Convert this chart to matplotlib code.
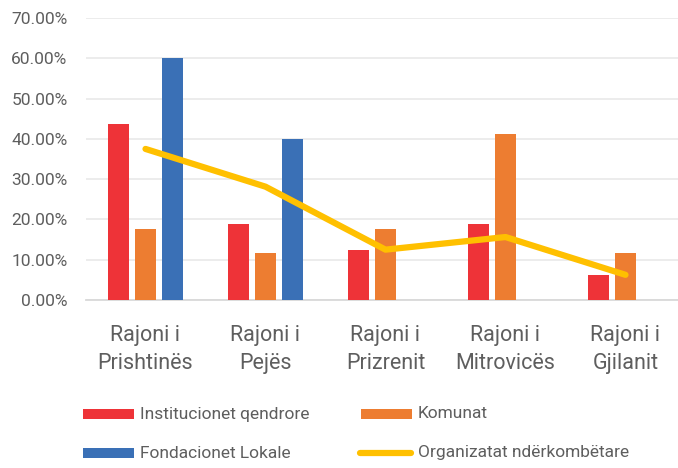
import matplotlib
matplotlib.use("Agg")
import matplotlib.pyplot as plt
import numpy as np
from matplotlib.patches import Rectangle
from matplotlib.lines import Line2D

plt.rcParams['font.family'] = ['Roboto', 'DejaVu Sans']

categories = ["Rajoni i\nPrishtinës", "Rajoni i\nPejës", "Rajoni i\nPrizrenit", "Rajoni i\nMitrovicës", "Rajoni i\nGjilanit"]
institucionet = [0.4375, 0.1875, 0.125, 0.1875, 0.0625]
komunat = [0.1765, 0.1176, 0.1765, 0.4118, 0.1176]
fondacionet = [0.60, 0.40, 0, 0, 0]
organizatat = [0.375, 0.2813, 0.125, 0.1563, 0.0625]
yticks = [0, 0.1, 0.2, 0.3, 0.4, 0.5, 0.6, 0.7]
series_names = ["Institucionet qendrore", "Komunat", "Fondacionet Lokale", "Organizatat ndërkombëtare"]

c_red = "#EE3338"
c_orange = "#ED7D31"
c_blue = "#3A70B6"
c_yellow = "#FFC000"
tc = "#5E5E5E"

W, H = 678, 468
fig = plt.figure(figsize=(W/100, H/100), dpi=100)
ax = fig.add_axes([85.5/W, 1-300/H, 600/W, 282/H])
x = np.arange(len(categories))
w = 0.175
step = 0.221
ax.bar(x - step, institucionet, w, color=c_red, zorder=3)
ax.bar(x, komunat, w, color=c_orange, zorder=3)
ax.bar(x + step, fondacionet, w, color=c_blue, zorder=3)
ax.plot(x, organizatat, color=c_yellow, lw=4.5, solid_capstyle='round', zorder=4)

ax.set_xlim(-0.5, len(categories) - 0.5)
ax.set_ylim(0, 0.7)
ax.set_yticks(yticks)
ax.set_yticklabels([f"{v*100:.2f}%" for v in yticks], fontsize=12.5, color=tc)
ax.set_xticks(x)
ax.set_xticklabels(categories, fontsize=15.5, color=tc, linespacing=1.45)
ax.tick_params(axis='both', length=0)
ax.tick_params(axis='x', pad=18)
ax.tick_params(axis='y', pad=13)
ax.grid(axis='y', color="#EBEBEB", lw=1.3, zorder=0)
for s in ['top', 'right', 'left']:
    ax.spines[s].set_visible(False)
ax.spines['bottom'].set_color("#D9D9D9")
ax.spines['bottom'].set_linewidth(1.3)

def fx(px):
    return px / W

def fy(py):
    return 1 - py / H

# manual legend
entries = [
    (series_names[0], c_red, 'patch', 83, 414, 140),
    (series_names[1], c_orange, 'patch', 361, 414, 418),
    (series_names[2], c_blue, 'patch', 83, 453, 140),
    (series_names[3], c_yellow, 'line', 360, 453, 418),
]
for name, col, kind, x0, yc, tx in entries:
    if kind == 'patch':
        fig.add_artist(Rectangle((fx(x0), fy(yc + 5)), fx(51), 10/H,
                                 transform=fig.transFigure, color=col, lw=0))
    else:
        fig.add_artist(Line2D([fx(x0), fx(x0 + 51)], [fy(yc), fy(yc)],
                              transform=fig.transFigure, color=col, lw=4.5,
                              solid_capstyle='round'))
    fig.text(fx(tx), fy(yc), name, fontsize=12.5, color=tc, va='center', ha='left')

fig.savefig("out.png", dpi=100)
